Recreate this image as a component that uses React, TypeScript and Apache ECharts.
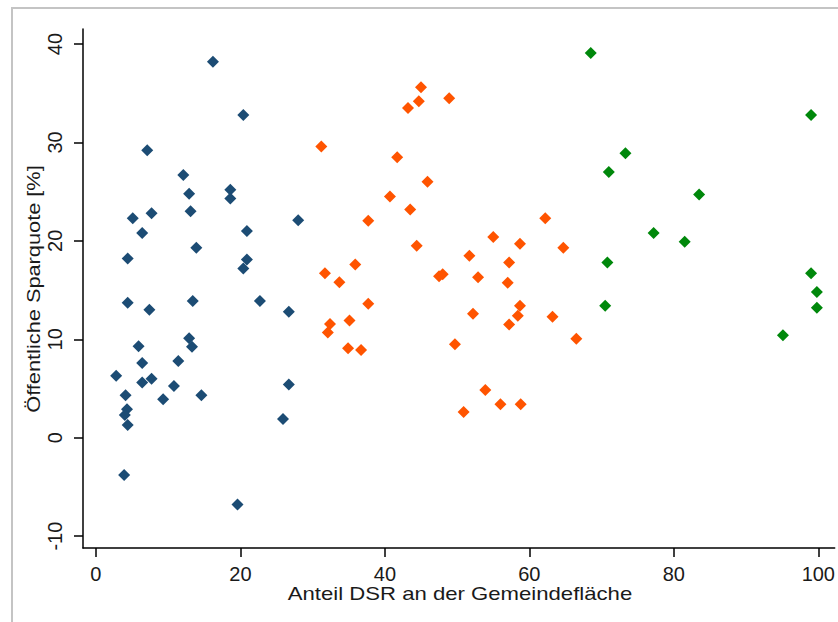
import React, { useEffect, useRef } from "react";
import * as echarts from "echarts";

// Group 1 (blue): low DSR share
const blueX = [16.2, 20.4, 7.1, 12.1, 12.9, 18.6, 18.6, 13.1, 7.7, 5.1, 6.4, 20.9, 28.0, 13.9, 4.4, 20.9, 20.4, 4.4, 7.4, 13.4, 22.7, 26.7, 12.9, 13.3, 5.9, 6.4, 11.4, 2.8, 6.4, 7.7, 10.8, 4.1, 9.3, 14.6, 4.3, 4.0, 4.4, 3.9, 19.6, 26.7, 25.9];
const blueY = [38.2, 32.8, 29.2, 26.7, 24.8, 25.2, 24.3, 23.0, 22.8, 22.3, 20.8, 21.0, 22.1, 19.3, 18.2, 18.1, 17.2, 13.7, 13.0, 13.9, 13.9, 12.8, 10.1, 9.25, 9.3, 7.6, 7.8, 6.3, 5.6, 6.0, 5.25, 4.3, 3.9, 4.3, 2.9, 2.3, 1.3, -3.8, -6.8, 5.4, 1.9];

// Group 2 (orange): medium DSR share
const orangeX = [45.0, 44.7, 43.2, 48.9, 31.2, 41.7, 45.9, 40.7, 43.5, 37.7, 62.2, 55.0, 58.7, 44.4, 64.7, 51.7, 57.2, 35.9, 31.7, 47.5, 48.0, 52.9, 33.7, 57.0, 37.7, 58.7, 52.2, 58.4, 63.2, 32.4, 35.1, 32.1, 57.2, 66.5, 34.9, 36.7, 49.7, 53.9, 56.0, 58.8, 50.9];
const orangeY = [35.6, 34.2, 33.5, 34.5, 29.6, 28.5, 26.0, 24.5, 23.2, 22.05, 22.3, 20.4, 19.7, 19.5, 19.3, 18.5, 17.8, 17.6, 16.7, 16.4, 16.6, 16.3, 15.8, 15.75, 13.6, 13.4, 12.6, 12.4, 12.3, 11.55, 11.9, 10.7, 11.5, 10.05, 9.1, 8.9, 9.5, 4.85, 3.4, 3.4, 2.6];

// Group 3 (green): high DSR share
const greenX = [68.5, 99.0, 73.3, 71.0, 83.5, 77.2, 81.5, 70.8, 99.0, 99.8, 70.5, 99.8, 95.1];
const greenY = [39.1, 32.8, 28.9, 27.0, 24.7, 20.8, 19.9, 17.8, 16.7, 14.8, 13.4, 13.2, 10.4];

const xTicks = [0, 20, 40, 60, 80, 100];
const yTicks = [-10, 0, 10, 20, 30, 40];

const xTitle = "Anteil DSR an der Gemeindefläche";
const yTitle = "Öffentliche Sparquote [%]";

const pairs = (xs: number[], ys: number[]) => xs.map((x, i) => [x, ys[i]]);

const FONT = "'Liberation Sans', Arial, sans-serif";

export default function App() {
  const ref = useRef<HTMLDivElement>(null);
  useEffect(() => {
    if (!ref.current) return;
    const chart = echarts.init(ref.current, undefined, { renderer: "svg" });
    const series = [
      { data: pairs(blueX, blueY), color: "#1c4c74" },
      { data: pairs(orangeX, orangeY), color: "#ff5400" },
      { data: pairs(greenX, greenY), color: "#00880b" },
    ].map((s) => ({
      type: "scatter",
      data: s.data,
      symbol: "diamond",
      symbolSize: 12,
      itemStyle: { color: s.color, opacity: 1 },
    }));
    chart.setOption({
      animation: false,
      backgroundColor: "#ffffff",
      grid: { left: 83, top: 29, right: 0, bottom: 74, containLabel: false },
      xAxis: {
        type: "value",
        min: -1.79,
        max: 102.27,
        splitLine: { show: false },
        axisLine: { show: true, onZero: false, lineStyle: { color: "#000", width: 1.5 } },
        axisTick: { show: true, length: 9, lineStyle: { color: "#000", width: 1.5 }, customValues: xTicks },
        axisLabel: { customValues: xTicks, fontSize: 20, fontFamily: FONT, color: "#1a1a1a", margin: 16 },
      },
      yAxis: {
        type: "value",
        min: -11.21,
        max: 41.53,
        splitLine: { show: false },
        axisLine: { show: true, onZero: false, lineStyle: { color: "#000", width: 1.5 } },
        axisTick: { show: true, length: 9, lineStyle: { color: "#000", width: 1.5 }, customValues: yTicks },
        axisLabel: { customValues: yTicks, fontSize: 20, fontFamily: FONT, color: "#1a1a1a", margin: 18, rotate: 90 },
      },
      graphic: [
        { type: "line", shape: { x1: 12, y1: 8, x2: 12, y2: 622 }, style: { stroke: "#c4c4c4", lineWidth: 2 } },
        { type: "line", shape: { x1: 11, y1: 8, x2: 838, y2: 8 }, style: { stroke: "#c4c4c4", lineWidth: 2 } },
        {
          type: "text",
          x: 460,
          y: 593,
          scaleX: 1.19,
          style: { text: xTitle, fontSize: 18.6, fontFamily: FONT, fill: "#1a1a1a", textAlign: "center", textVerticalAlign: "middle" },
        },
        {
          type: "text",
          x: 33.5,
          y: 289,
          rotation: Math.PI / 2,
          scaleX: 1.17,
          style: { text: yTitle, fontSize: 18.6, fontFamily: FONT, fill: "#1a1a1a", textAlign: "center", textVerticalAlign: "middle" },
        },
      ],
      series,
    });
    return () => chart.dispose();
  }, []);
  return <div ref={ref} style={{ position: "fixed", left: 0, top: 0, width: 838, height: 622 }} />;
}
